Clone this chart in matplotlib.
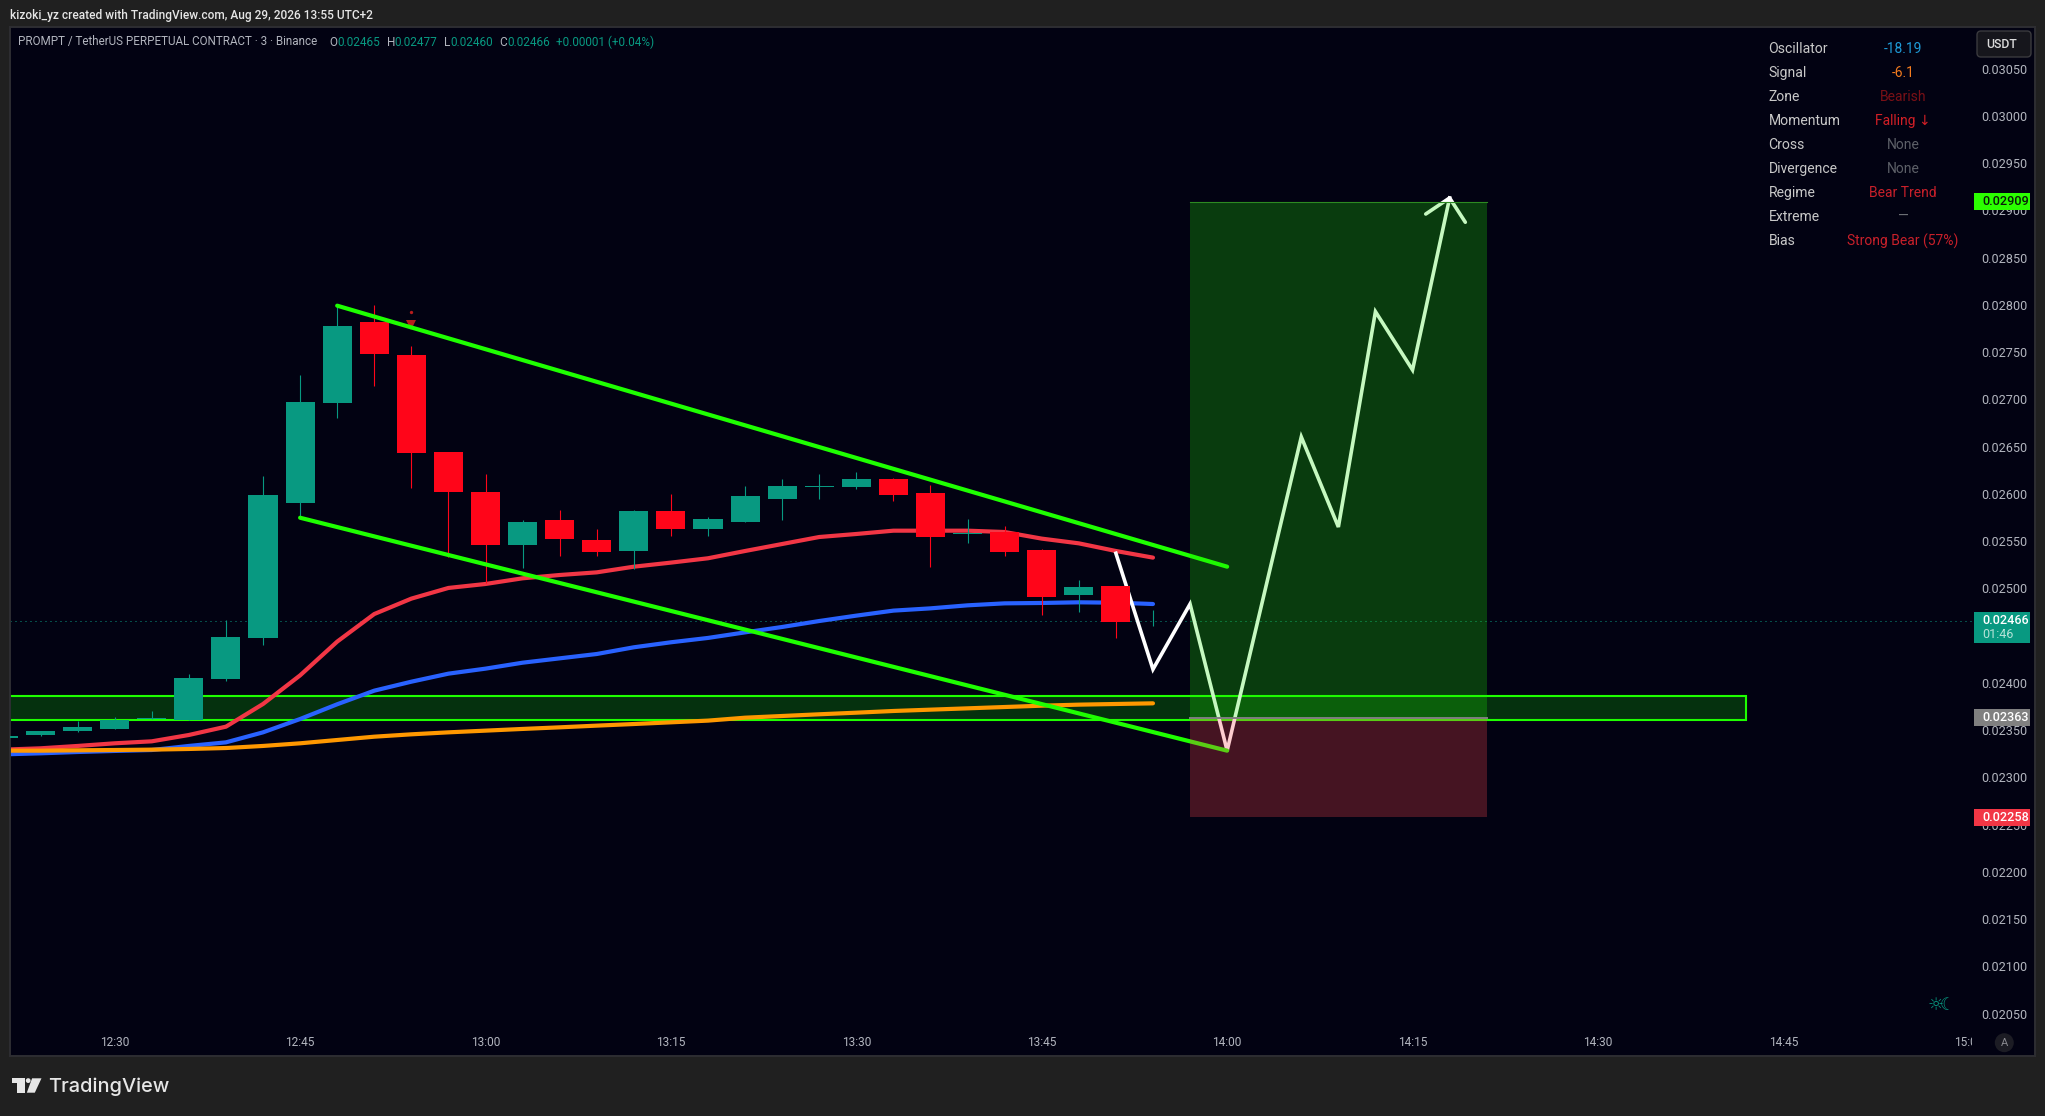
import numpy as np
import matplotlib
matplotlib.use("Agg")
import matplotlib.pyplot as plt
from matplotlib.patches import Rectangle, FancyBboxPatch, Polygon, Circle
from matplotlib.transforms import Bbox, IdentityTransform, blended_transform_factory

plt.rcParams['font.family'] = ['Roboto', 'DejaVu Sans']

W, H = 2045, 1116

# candles, 3 minute bars, minutes after 12:00
bar_min = np.arange(21, 117, 3)
opens = [.023421, .023449, .023492, .023513, .023613, .023608, .024042, .024476, .025904, .026962, .02782,
         .02747, .026444, .026021, .02546, .025724, .025513, .025396, .02582, .025629, .025703, .025947,
         .02607, .02607, .026158, .02601, .025573, .025597, .025407, .024931, .025026, .02465]
highs = [.023439, .023492, .023597, .02364, .023703, .024095, .024666, .02619, .027259, .028, .028,
         .027566, .026444, .026211, .025724, .02583, .025629, .02583, .026, .025756, .026084, .026158,
         .026211, .026232, .026169, .026095, .025735, .025661, .025418, .025089, .025026, .024772]
lows = [.023421, .02344, .023481, .023513, .023613, .023608, .024021, .024402, .025756, .026804, .027142,
        .026063, .025336, .025058, .025216, .025343, .025343, .025206, .025555, .025555, .025703, .025724,
        .025947, .026052, .025925, .025227, .025481, .025343, .024719, .024751, .024476, .024603]
closes = [.023439, .023492, .023534, .023608, .023629, .024052, .024486, .025989, .026973, .027777, .027484,
          .026433, .026021, .02546, .025703, .025523, .025386, .02582, .025629, .025735, .025978, .026084,
          .02608, .026158, .025989, .025544, .025583, .025386, .02491, .025015, .024648, .02466]

# moving averages, one value per bar
ma_red = [.023294, .023308, .023333, .023361, .023382, .023449, .023537, .023777, .02408, .024437, .024729,
          .024892, .025005, .025047, .025107, .025142, .02517, .02523, .025273, .025319, .025396, .02547,
          .025544, .025576, .025611, .025611, .025611, .025597, .025527, .025477, .025396, .025326]
ma_blue = [.023244, .023255, .023269, .02328, .02329, .023333, .023371, .023477, .023618, .023774, .023918,
           .024013, .024098, .024151, .024214, .02426, .024306, .024377, .02443, .024476, .024535, .024592,
           .024655, .024712, .024765, .024789, .024821, .024842, .024846, .024853, .024849, .024835]
ma_orange = [.023283, .023283, .023287, .02329, .023294, .023301, .023311, .023333, .023361, .023396, .023431,
             .023456, .023477, .023495, .023513, .02353, .023548, .023565, .023583, .023601, .023632, .02365,
             .023668, .023685, .023703, .023717, .023731, .023745, .023759, .02377, .023777, .023784]

# drawings
upper_x = [48, 120]
upper_y = [.027992, .02523]
lower_x = [45, 120]
lower_y = [.025748, .023283]
path_x = [111, 114, 117, 120, 126, 129, 132, 135, 138]
path_y = [.025372, .024144, .024835, .023283, .026603, .02565, .027929, .027312, .029132]
head_x = [136.07, 138, 139.27]
head_y = [.028962, .029132, .028875]
zone_top, zone_bottom = .023862, .023608
zone_end = 162
box_start, box_end = 117, 141
target, entry, stop = .02909, .02363, .02258
last_price = .02466
signal_min = 54
signal_dot = .027922
signal_tri = .027788

# axis labels, 0.02450 sits under the last price tag so it is left out
time_ticks = [30, 45, 60, 75, 90, 105, 120, 135, 150, 165, 180]
time_labels = ['12:30', '12:45', '13:00', '13:15', '13:30', '13:45', '14:00', '14:15', '14:30', '14:45', '15:00']
price_ticks = [.0205, .021, .0215, .022, .0225, .023, .0235, .024, .025, .0255, .026, .0265, .027,
               .0275, .028, .0285, .029, .0295, .03, .0305]

table_names = ['Oscillator', 'Signal', 'Zone', 'Momentum', 'Cross', 'Divergence', 'Regime', 'Extreme', 'Bias']
table_values = ['-18.19', '-6.1', 'Bearish', 'Falling ↓', 'None', 'None', 'Bear Trend', '—', 'Strong Bear (57%)']
table_colors = ['#1e9ad6', '#f57c1f', '#7a1016', '#d21f26', '#5d6068', '#5d6068', '#c9202a', '#6f7278', '#c9202a']

UP = '#089981'
DOWN = '#ff0519'
LIME = '#1eff00'
BG = '#020212'
OUTER = '#202020'
GREY = '#b2b5be'

fig = plt.figure(figsize=(W / 100, H / 100), dpi=100, facecolor=OUTER)
ax = fig.add_axes([10 / W, 1 - 1056 / H, 2025 / W, 1029 / H], facecolor=BG)
ax.set_xlim(21.53, 185.36)
ax.set_ylim(0.020052, 0.030941)

for s in ax.spines.values():
    s.set_color('#2e2e32')
    s.set_linewidth(1.4)

# last price dotted line
side = blended_transform_factory(ax.transAxes, ax.transData)
ax.plot([0, 0.9685], [last_price, last_price], transform=side, color=UP, lw=0.72, ls=(0, (1, 4)), zorder=1.5)

# zone
ax.add_patch(Rectangle((20, zone_bottom), zone_end - 20, zone_top - zone_bottom,
                       facecolor=(0.07, 1, 0, 0.19), edgecolor=LIME, lw=1.5, zorder=1))

# averages
ax.plot(bar_min, ma_blue, color='#2962ff', lw=3, zorder=2, solid_capstyle='round')
ax.plot(bar_min, ma_red, color='#f23645', lw=3, zorder=2.1, solid_capstyle='round')
ax.plot(bar_min, ma_orange, color='#ff9800', lw=3, zorder=2.2, solid_capstyle='round')

# projected path
ax.plot(path_x, path_y, color='white', lw=2.6, zorder=2.3, solid_joinstyle='miter')
ax.plot(head_x, head_y, color='white', lw=2.6, zorder=2.3, solid_capstyle='round')

# candles
colors = [UP if c >= o else DOWN for o, c in zip(opens, closes)]
wicks = ax.vlines(bar_min, lows, highs, colors=colors, lw=0.8, zorder=3)
wicks.set_snap(True)
bottoms = [min(o, c) for o, c in zip(opens, closes)]
heights = [abs(o - c) for o, c in zip(opens, closes)]
ax.bar(bar_min, heights, width=2.35, bottom=bottoms, color=colors, lw=0, zorder=3.1)

# signal mark
ax.plot([signal_min], [signal_dot], 'o', color='#b71c1c', ms=2.4, mew=0, zorder=3.2)
ax.plot([signal_min], [signal_tri], 'v', color='#b71c1c', ms=6.5, mew=0, zorder=3.2)

# wedge lines
ax.plot(upper_x, upper_y, color=LIME, lw=3, zorder=4, solid_capstyle='round')
ax.plot(lower_x, lower_y, color=LIME, lw=3, zorder=4, solid_capstyle='round')

# long position box sits over everything
ax.add_patch(Rectangle((box_start, entry), box_end - box_start, target - entry, facecolor='#1eeb06', alpha=0.25,
                       lw=0, zorder=5))
ax.add_patch(Rectangle((box_start, stop), box_end - box_start, entry - stop, facecolor='#fa484e', alpha=0.27,
                       lw=0, zorder=5))
ax.plot([box_start, box_end], [target, target], color='#2d8a22', lw=0.8, zorder=5.1)
ax.plot([box_start, box_end], [entry, entry], color='#808080', lw=1.4, zorder=5.1)

# axes labels sit inside the panel
ax.set_xticks(time_ticks)
ax.set_xticklabels(time_labels)
ax.set_yticks(price_ticks)
ax.set_yticklabels(['%.5f' % p for p in price_ticks])
ax.yaxis.tick_right()
ax.tick_params(axis='x', direction='in', length=0, pad=-14.6, labelsize=8.6, labelcolor=GREY)
ax.tick_params(axis='y', direction='in', length=0, pad=-39, labelsize=9.1, labelcolor=GREY)
ax.get_xticklabels()[-1].set_clip_box(Bbox([[0, 0], [1972, H]]))
ax.get_xticklabels()[-1].set_clip_on(True)


def badge(price, text, color, tcolor='white', tall=17, second=None):
    # price tag on the right side, tall is in pixels
    dp = (0.030941 - 0.020052) / 1029
    top = price + 8.5 * dp
    ax.add_patch(Rectangle((1964 / 2025, top - tall * dp), 56 / 2025, tall * dp, facecolor=color, lw=0,
                           transform=side, zorder=7, clip_on=False))
    ax.text(1972 / 2025, price, text, transform=side, color=tcolor, fontsize=9.1, fontweight='medium',
            va='center', ha='left', zorder=8)
    if second:
        ax.text(1972 / 2025, price - 14 * dp, second, transform=side, color='#b5e3d8', fontsize=9.1,
                va='center', ha='left', zorder=8)


badge(target, '0.02909', '#2bff00', tcolor='#0a1a0a')
badge(last_price, '0.02466', UP, tall=31, second='01:46')
badge(entry, '0.02363', '#808080')
badge(stop, '0.02258', '#f23645')


def ptext(x, y, s, **kw):
    kw.setdefault('va', 'center')
    kw.setdefault('color', GREY)
    kw.setdefault('fontsize', 8.6)
    return fig.text(x / W, 1 - y / H, s, **kw)


# top strip and legend line
ptext(10, 15, 'kizoki_yz created with TradingView.com, Aug 29, 2026 13:55 UTC+2', color='#e6e6e6', fontsize=8.55,
      fontweight='medium')
ptext(18, 42, 'PROMPT / TetherUS PERPETUAL CONTRACT · 3 · Binance', fontsize=8.37)
for x, s, c in [(329, 'O', GREY), (337, '0.02465', UP), (386.6, 'H', GREY), (394.6, '0.02477', UP),
                (444, 'L', GREY), (450, '0.02460', UP), (499, 'C', GREY), (507, '0.02466', UP),
                (556, '+0.00001 (+0.04%)', UP)]:
    ptext(x, 42, s, color=c, fontsize=8.5)

# info table
for i, name in enumerate(table_names):
    y = 49 + 24 * i
    ptext(1768.5, y, name, color='#c8c8c8', fontsize=10.1)
    ptext(1903, y, table_values[i], color=table_colors[i], fontsize=10, ha='center')

# USDT button
fig.add_artist(FancyBboxPatch((1977, H - 57), 54, 26, boxstyle='round,pad=0,rounding_size=4', facecolor='#16161c',
                              edgecolor='#3a3a3e', lw=1, transform=IdentityTransform(), zorder=5))
ptext(1986, 45, 'USDT', color='#dcdcdc', fontsize=8.8, fontweight='medium', zorder=6)

# auto button and session icon
fig.add_artist(Circle((2004.3, H - 1042.7), 9.5, facecolor='#1c1c24', lw=0, transform=IdentityTransform(), zorder=5))
ptext(2004.3, 1043, 'A', color='#8a8a90', fontsize=8, ha='center', zorder=6)
ptext(1935.7, 1005, '☼', color=UP, fontsize=13, ha='center', family=['DejaVu Sans'])
ptext(1947.5, 1005, '☾', color=UP, fontsize=12, ha='center', family=['DejaVu Sans'])

# logo
logo = '#e6e6e6'
for pts in ([(12, 1078.3), (24.6, 1078.3), (24.6, 1092.7), (17, 1092.7), (17, 1083), (12, 1083)],
            [(32.1, 1078.3), (41.5, 1078.3), (34.8, 1092.7), (26.8, 1092.7)]):
    fig.add_artist(Polygon([(x, H - y) for x, y in pts], facecolor=logo, lw=0, transform=IdentityTransform(), zorder=5))
fig.add_artist(Circle((28.2, H - 1080.6), 2.4, facecolor=logo, lw=0, transform=IdentityTransform(), zorder=5))
ptext(48, 1086.5, 'TradingView', color=logo, fontsize=14.4, fontweight='medium', family=['Inter', 'DejaVu Sans'])

fig.savefig('out.png', dpi=100, facecolor=OUTER)
